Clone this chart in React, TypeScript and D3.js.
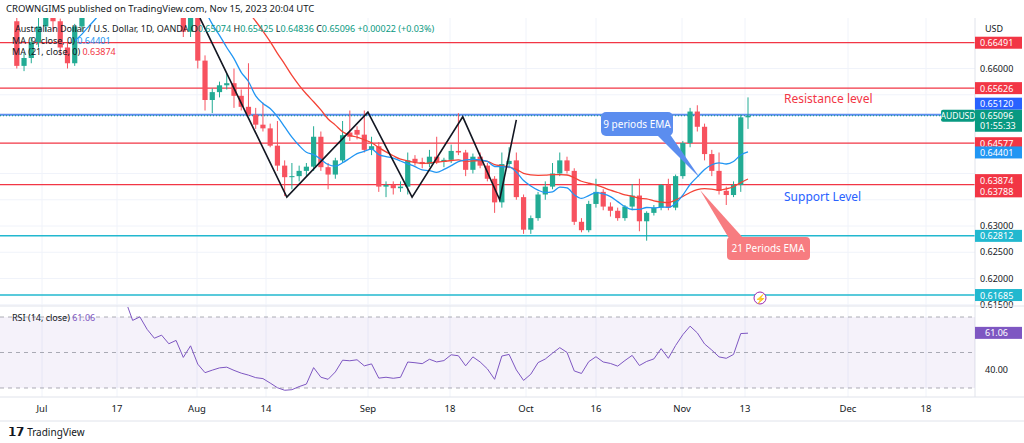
import React from "react";
import * as d3 from "d3";

// daily candles [open, high, low, close], late Jun -> Nov 15 2023
const candles: [number, number, number, number][] = [
  [0.669, 0.67, 0.66, 0.6605], [0.6605, 0.663, 0.6595, 0.662], [0.662, 0.666, 0.661, 0.665], [0.665, 0.67, 0.664, 0.668],
  [0.668, 0.6715, 0.667, 0.67], [0.67, 0.6712, 0.667, 0.669], [0.669, 0.6695, 0.6625, 0.664], [0.664, 0.665, 0.66, 0.661],
  [0.661, 0.6685, 0.6605, 0.668], [0.668, 0.6725, 0.667, 0.672], [0.672, 0.677, 0.671, 0.676], [0.676, 0.68, 0.675, 0.679],
  [0.679, 0.686, 0.678, 0.685], [0.685, 0.689, 0.684, 0.688], [0.688, 0.69, 0.685, 0.687], [0.687, 0.69, 0.686, 0.689],
  [0.689, 0.69, 0.681, 0.682], [0.682, 0.686, 0.68, 0.685], [0.685, 0.686, 0.679, 0.68], [0.68, 0.681, 0.675, 0.676],
  [0.676, 0.679, 0.674, 0.678], [0.678, 0.679, 0.673, 0.674], [0.674, 0.677, 0.672, 0.676], [0.676, 0.677, 0.666, 0.667],
  [0.667, 0.675, 0.666, 0.674], [0.674, 0.675, 0.66, 0.6615], [0.6615, 0.6625, 0.652, 0.654], [0.654, 0.6562, 0.6515, 0.6555],
  [0.6555, 0.6575, 0.6545, 0.6568], [0.6568, 0.659, 0.656, 0.6572], [0.6572, 0.66, 0.6525, 0.6548], [0.6548, 0.656, 0.652, 0.6527],
  [0.6527, 0.661, 0.651, 0.6512], [0.6512, 0.6525, 0.6485, 0.6493], [0.6493, 0.6535, 0.648, 0.6486], [0.6486, 0.6495, 0.645, 0.6453],
  [0.6453, 0.65, 0.6405, 0.6415], [0.6415, 0.6425, 0.6357, 0.6393], [0.6393, 0.642, 0.637, 0.6395], [0.6395, 0.6415, 0.6385, 0.6405],
  [0.6405, 0.642, 0.6395, 0.6413], [0.6413, 0.649, 0.6405, 0.647], [0.647, 0.648, 0.6405, 0.6412], [0.6412, 0.642, 0.637, 0.6398],
  [0.6398, 0.643, 0.639, 0.6425], [0.6425, 0.65, 0.642, 0.6473], [0.6478, 0.652, 0.6462, 0.647], [0.6483, 0.649, 0.6465, 0.6474],
  [0.6474, 0.652, 0.644, 0.6445], [0.6445, 0.647, 0.6435, 0.6452], [0.6452, 0.646, 0.6365, 0.6375], [0.6375, 0.6385, 0.6355, 0.6378],
  [0.6378, 0.6385, 0.636, 0.6372], [0.6372, 0.6385, 0.6365, 0.6375], [0.6375, 0.644, 0.636, 0.6425], [0.6428, 0.6435, 0.6415, 0.6422],
  [0.6422, 0.643, 0.641, 0.6418], [0.6418, 0.6445, 0.6412, 0.6432], [0.6432, 0.647, 0.6418, 0.6422], [0.6422, 0.643, 0.6412, 0.6426],
  [0.6426, 0.6455, 0.642, 0.6443], [0.6443, 0.6515, 0.6435, 0.644], [0.644, 0.6445, 0.6395, 0.6407], [0.6407, 0.6438, 0.64, 0.6432],
  [0.6432, 0.644, 0.641, 0.6415], [0.6415, 0.642, 0.6385, 0.639], [0.639, 0.6395, 0.6325, 0.6345], [0.6345, 0.644, 0.6335, 0.6418],
  [0.6418, 0.645, 0.641, 0.6424], [0.6425, 0.644, 0.635, 0.6355], [0.6355, 0.636, 0.6285, 0.6293], [0.6293, 0.632, 0.6285, 0.6315],
  [0.6315, 0.6365, 0.631, 0.636], [0.636, 0.6385, 0.635, 0.6375], [0.6375, 0.642, 0.637, 0.64], [0.64, 0.644, 0.6395, 0.6425],
  [0.6425, 0.6432, 0.64, 0.6405], [0.6405, 0.641, 0.6302, 0.6308], [0.6308, 0.6315, 0.6288, 0.6292], [0.6292, 0.6348, 0.6288, 0.6342],
  [0.6342, 0.639, 0.6335, 0.6365], [0.6365, 0.637, 0.633, 0.6337], [0.6337, 0.6345, 0.6318, 0.6329], [0.6329, 0.6335, 0.631, 0.6315],
  [0.6315, 0.634, 0.631, 0.6337], [0.6337, 0.638, 0.633, 0.6358], [0.6358, 0.639, 0.629, 0.6309], [0.6309, 0.6328, 0.6272, 0.6325],
  [0.6325, 0.634, 0.632, 0.6335], [0.6335, 0.638, 0.633, 0.6378], [0.6378, 0.639, 0.633, 0.6335], [0.6335, 0.6398, 0.633, 0.6395],
  [0.6395, 0.6462, 0.639, 0.6458], [0.6458, 0.6525, 0.645, 0.6518], [0.6518, 0.653, 0.648, 0.6489], [0.6489, 0.6495, 0.6425, 0.6437],
  [0.6437, 0.6445, 0.6395, 0.6405], [0.6405, 0.644, 0.636, 0.6367], [0.6367, 0.6375, 0.634, 0.6359], [0.6359, 0.6385, 0.6355, 0.6378],
  [0.6378, 0.6512, 0.6365, 0.6507], [0.6507, 0.6545, 0.6485, 0.651],
];

// zig-zag pattern drawn on the chart: [bar index, price]
const zigzag: [number, number][] = [
  [25.3, 0.6696], [37.3, 0.6355], [48.5, 0.6517], [54.6, 0.6355], [61.6, 0.6508], [66.7, 0.635], [69, 0.6502],
];

const levels = [
  { p: 0.66491, c: "#f23645", w: 1.2 },
  { p: 0.65626, c: "#f23645", w: 1.2 },
  { p: 0.6512, c: "#5b8def", w: 2 },
  { p: 0.64577, c: "#f23645", w: 1.2 },
  { p: 0.63788, c: "#f23645", w: 1.2 },
  { p: 0.62812, c: "#22b8cf", w: 1.5 },
  { p: 0.61685, c: "#22b8cf", w: 1.5 },
];

const priceTicks = [0.66, 0.655, 0.64, 0.635, 0.63, 0.625, 0.62, 0.615];
const tickLabels = [0.66, 0.63, 0.625, 0.62, 0.615];
const rightLabels = [
  { t: "0.66491", p: 0.66491, bg: "#f23645" },
  { t: "0.65626", p: 0.65626, bg: "#f23645" },
  { t: "0.65120", p: 0.6533, bg: "#2962ff" },
  { t: "0.64577", p: 0.64577, bg: "#f23645" },
  { t: "0.64401", p: 0.64401, bg: "#2196f3" },
  { t: "0.63874", p: 0.63874, bg: "#f23645" },
  { t: "0.63788", p: 0.6366, bg: "#f23645" },
  { t: "0.62812", p: 0.62812, bg: "#22b8cf" },
  { t: "0.61685", p: 0.61685, bg: "#22b8cf" },
];
const dateTicks = [
  { t: "Jul", x: 42 }, { t: "17", x: 117 }, { t: "Aug", x: 197 }, { t: "14", x: 266 }, { t: "Sep", x: 368 },
  { t: "18", x: 450 }, { t: "Oct", x: 526 }, { t: "16", x: 596 }, { t: "Nov", x: 682 }, { t: "13", x: 745 },
  { t: "Dec", x: 848 }, { t: "18", x: 926 },
];

const W = 1024, H = 443, RIGHT = 975;
const font = "'Noto Sans', sans-serif";

function sma(vals: number[], n: number) {
  return vals.map((_, i) => (i < n - 1 ? null : d3.mean(vals.slice(i - n + 1, i + 1))!));
}
function rsi(vals: number[], n: number) {
  const out: (number | null)[] = vals.map(() => null);
  let g = 0, l = 0;
  for (let i = 1; i < vals.length; i++) {
    const ch = vals[i] - vals[i - 1];
    const up = Math.max(ch, 0), dn = Math.max(-ch, 0);
    if (i <= n) { g += up / n; l += dn / n; } else { g = (g * (n - 1) + up) / n; l = (l * (n - 1) + dn) / n; }
    if (i >= n) out[i] = 100 - 100 / (1 + g / (l || 1e-9));
  }
  return out;
}

export default function App() {
  const x = d3.scaleLinear().domain([0, candles.length - 1]).range([16.8, 748]);
  const y = d3.scaleLinear().domain([0.66, 0.62]).range([68.5, 278.5]);
  const yR = d3.scaleLinear().domain([70, 30]).range([317, 388]);
  const closes = candles.map((c) => c[3]);
  const ma9 = sma(closes, 9), ma21 = sma(closes, 21), r = rsi(closes, 14);
  const line = d3.line<number | null>().defined((d) => d != null).x((_, i) => x(i)).y((d) => y(d!)).curve(d3.curveMonotoneX);
  const rline = d3.line<number | null>().defined((d) => d != null).x((_, i) => x(i)).y((d) => yR(d!));
  const zz = d3.line<[number, number]>().x((d) => x(d[0])).y((d) => y(d[1]));
  const last = candles[candles.length - 1][3];
  return (
    <svg width={W} height={H} style={{ position: "absolute", left: 0, top: 0, background: "#fff" }} fontFamily={font}>
      <rect width={W} height={H} fill="#fff" />
      <defs>
        <clipPath id="pane"><rect x={0} y={18} width={RIGHT} height={288} /></clipPath>
        <clipPath id="rpane"><rect x={0} y={307} width={RIGHT} height={90} /></clipPath>
      </defs>
      {/* grid */}
      {priceTicks.map((p) => <line key={p} x1={0} x2={RIGHT} y1={y(p)} y2={y(p)} stroke="#f0f3fa" />)}
      {dateTicks.map((d, i) => <line key={i} x1={d.x} x2={d.x} y1={18} y2={397} stroke="#f0f3fa" />)}
      <g clipPath="url(#pane)">
        {levels.map((l, i) => <line key={i} x1={0} x2={RIGHT} y1={y(l.p)} y2={y(l.p)} stroke={l.c} strokeWidth={l.w} />)}
        <line x1={0} x2={RIGHT} y1={y(last)} y2={y(last)} stroke="#089981" strokeDasharray="1 2" />
        {candles.map(([o, h, l, c], i) => {
          const col = c >= o ? "#22ab94" : "#f7525f";
          const top = y(Math.max(o, c)), bot = y(Math.min(o, c));
          return (
            <g key={i}>
              <line x1={x(i)} x2={x(i)} y1={y(h)} y2={y(l)} stroke={col} />
              <rect x={x(i) - 2.6} y={top} width={5.2} height={Math.max(bot - top, 1)} fill={col} />
            </g>
          );
        })}
        <path d={line(ma21)!} fill="none" stroke="#f44336" strokeWidth={1.3} />
        <path d={line(ma9)!} fill="none" stroke="#2196f3" strokeWidth={1.3} />
        <path d={zz(zigzag)!} fill="none" stroke="#131722" strokeWidth={1.6} />
      </g>
      {/* annotations */}
      <text x={784} y={103} fill="#f23645" fontSize={12}>Resistance level</text>
      <text x={784} y={201} fill="#2962ff" fontSize={12}>Support Level</text>
      <path d="M652,130 L700,178 L667,130 Z" fill="#5b8def" />
      <rect x={601} y={112} width={72} height={24} rx={5} fill="#5b8def" />
      <text x={637} y={128} fill="#fff" fontSize={10} textAnchor="middle">9 periods EMA</text>
      <path d="M700,190 L745,240 L730,240 Z" fill="#f77c80" />
      <rect x={727} y={237} width={83} height={23} rx={4} fill="#f77c80" />
      <text x={768} y={252} fill="#fff" fontSize={10} textAnchor="middle">21 Periods EMA</text>
      <circle cx={760} cy={298} r={6} fill="#fff" stroke="#9c27b0" />
      <text x={760} y={301.5} fill="#9c27b0" fontSize={9} textAnchor="middle">⚡</text>
      {/* header */}
      <text x={6} y={12} fontSize={9.5} fill="#131722">CROWNGIMS published on TradingView.com, Nov 15, 2023 20:04 UTC</text>
      <text x={15} y={32} fontSize={9} fill="#131722">Australian Dollar / U.S. Dollar, 1D, OANDA  O<tspan fill="#089981">0.65074</tspan> H<tspan fill="#089981">0.65425</tspan> L<tspan fill="#089981">0.64836</tspan> C<tspan fill="#089981">0.65096</tspan> <tspan fill="#089981">+0.00022 (+0.03%)</tspan></text>
      <text x={12} y={44} fontSize={9} fill="#131722">MA (9, close, 0) <tspan fill="#2196f3">0.64401</tspan></text>
      <text x={12} y={55} fontSize={9} fill="#131722">MA (21, close, 0) <tspan fill="#f23645">0.63874</tspan></text>
      {/* right scale */}
      <line x1={RIGHT} x2={RIGHT} y1={18} y2={397} stroke="#e0e3eb" />
      <text x={985} y={32} fontSize={9} fill="#131722">USD</text>
      {tickLabels.map((p) => <text key={p} x={980} y={y(p) + 3} fontSize={9} fill="#131722">{p.toFixed(5)}</text>)}
      {rightLabels.map((l) => (
        <g key={l.t}>
          <rect x={RIGHT} y={y(l.p) - 6} width={47} height={12} fill={l.bg} />
          <text x={980} y={y(l.p) + 3.5} fontSize={9} fill="#fff">{l.t}</text>
        </g>
      ))}
      <rect x={941} y={y(last) - 6} width={34} height={12} rx={2} fill="#089981" />
      <text x={958} y={y(last) + 3.5} fontSize={8.5} fill="#fff" textAnchor="middle">AUDUSD</text>
      <rect x={RIGHT} y={y(last) - 6} width={47} height={22} fill="#089981" />
      <text x={980} y={y(last) + 3.5} fontSize={9} fill="#fff">0.65096</text>
      <text x={980} y={y(last) + 13.5} fontSize={9} fill="#fff">01:55:33</text>
      {/* RSI pane */}
      <line x1={0} x2={W} y1={306} y2={306} stroke="#e0e3eb" />
      <rect x={0} y={yR(70)} width={RIGHT} height={yR(30) - yR(70)} fill="#7e57c2" opacity={0.08} />
      {[70, 50, 30].map((v) => <line key={v} x1={0} x2={RIGHT} y1={yR(v)} y2={yR(v)} stroke="#787b86" strokeDasharray="4 4" opacity={0.6} />)}
      <path d={rline(r)!} fill="none" stroke="#7e57c2" strokeWidth={1} clipPath="url(#rpane)" />
      <text x={12} y={321} fontSize={9} fill="#131722">RSI (14, close) <tspan fill="#7e57c2">61.06</tspan></text>
      <rect x={RIGHT} y={yR(61.06) - 6} width={47} height={12} fill="#7e57c2" />
      <text x={985} y={yR(61.06) + 3.5} fontSize={9} fill="#fff">61.06</text>
      <text x={985} y={yR(40) + 3} fontSize={9} fill="#131722">40.00</text>
      {/* x axis */}
      <line x1={0} x2={W} y1={397} y2={397} stroke="#e0e3eb" />
      {dateTicks.map((d, i) => <text key={i} x={d.x} y={412} fontSize={9.5} fill="#131722" textAnchor="middle">{d.t}</text>)}
      <line x1={0} x2={W} y1={421} y2={421} stroke="#e0e3eb" />
      <text x={8} y={436} fontSize={12} fontWeight="bold" fill="#131722">𝟭𝟳 <tspan fontWeight="normal" fontSize={10}>TradingView</tspan></text>
    </svg>
  );
}
